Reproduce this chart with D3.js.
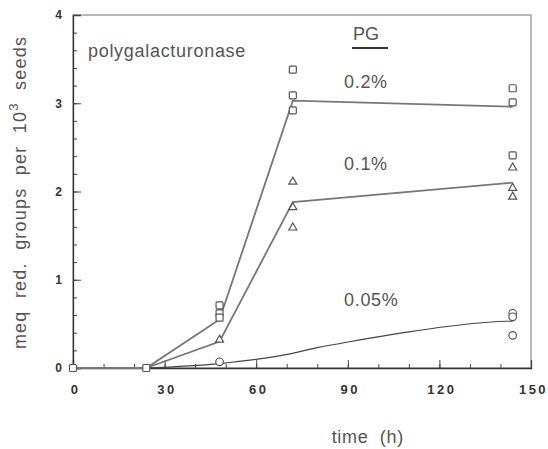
<!DOCTYPE html>
<html>
<head>
<meta charset="utf-8">
<script src="https://cdn.jsdelivr.net/npm/d3@7"></script>
<style>
  body { margin: 0; background: #fff; }
  svg { display: block; }
  .lbl { font-family: "Liberation Sans", Arial, sans-serif; fill: #555; }
  .tick text { font-family: "Liberation Sans", Arial, sans-serif; font-weight: bold; fill: #333; }
</style>
</head>
<body>
<div id="chart"></div>
<script>
var margin = { top: 15, right: 17, bottom: 81, left: 73 },
    width = 548 - margin.left - margin.right,
    height = 449 - margin.top - margin.bottom;

// observed points (time h, meq)
var pg02Obs = [[0,0],[24,0],[48,0.71],[48,0.62],[48,0.57],[72,3.38],[72,3.09],[72,2.92],[144,3.17],[144,3.01],[144,2.41]],
    pg01Obs = [[48,0.32],[72,2.11],[72,1.82],[72,1.59],[144,2.27],[144,2.04],[144,1.94]],
    pg005Obs = [[48,0.07],[144,0.62],[144,0.58],[144,0.37]];

// mean lines
var pg02Line = [[0,0],[24,0],[48,0.55],[72,3.03],[144,2.96]],
    pg01Line = [[24,0],[48,0.3],[72,1.88],[144,2.1]],
    pg005Curve = [[24,0],[48,0.05],[68,0.14],[80,0.23],[91,0.3],[110,0.41],[133,0.51],[142,0.53],[144,0.53]];

var xTicks = [0, 30, 60, 90, 120, 150],
    yTicks = [0, 1, 2, 3, 4];

var svg = d3.select("#chart").append("svg")
    .attr("width", 548)
    .attr("height", 449)
    .append("g")
    .attr("transform", "translate(" + margin.left + "," + margin.top + ")");

var x = d3.scaleLinear().domain([0, 150]).range([0, width]);
var y = d3.scaleLinear().domain([0, 4]).range([height, 0]);

// frame
svg.append("rect")
    .attr("width", width).attr("height", height)
    .attr("fill", "none").attr("stroke", "#777").attr("stroke-width", 1);

// minor ticks
svg.append("g").attr("transform", "translate(0," + height + ")")
    .call(d3.axisBottom(x).tickValues(d3.range(10, 150, 10)).tickSize(-4).tickFormat(""))
    .call(function(g) { g.select(".domain").remove(); g.selectAll("line").attr("stroke", "#444"); });
svg.append("g")
    .call(d3.axisLeft(y).tickValues(d3.range(0.2, 4, 0.2)).tickSize(-4).tickFormat(""))
    .call(function(g) { g.select(".domain").remove(); g.selectAll("line").attr("stroke", "#444"); });

// major ticks
var xAxis = svg.append("g").attr("transform", "translate(0," + height + ")")
    .call(d3.axisBottom(x).tickValues(xTicks).tickSize(-8).tickPadding(17).tickFormat(d3.format("d")));
xAxis.select(".domain").attr("stroke", "#333").attr("stroke-width", 1.3);
xAxis.selectAll("line").attr("stroke", "#444");
xAxis.selectAll("text").style("font-size", "13px").style("letter-spacing", "2.5px").attr("dx", "2");

var yAxis = svg.append("g")
    .call(d3.axisLeft(y).tickValues(yTicks).tickSize(-8).tickPadding(11).tickFormat(d3.format("d")));
yAxis.select(".domain").attr("stroke", "#333").attr("stroke-width", 1.3);
yAxis.selectAll("line").attr("stroke", "#444");
yAxis.selectAll("text").style("font-size", "12px");

// lines
var line = d3.line().x(function(d) { return x(d[0]); }).y(function(d) { return y(d[1]); });
var curve = d3.line().curve(d3.curveMonotoneX).x(function(d) { return x(d[0]); }).y(function(d) { return y(d[1]); });

[pg02Line, pg01Line].forEach(function(l) {
  svg.append("path").datum(l).attr("d", line)
      .attr("fill", "none").attr("stroke", "#777").attr("stroke-width", 1.8);
});
svg.append("path").datum(pg005Curve).attr("d", curve)
    .attr("fill", "none").attr("stroke", "#444").attr("stroke-width", 1.2);

// markers
svg.selectAll(".sq").data(pg02Obs).enter().append("rect")
    .attr("class", "sq")
    .attr("x", function(d) { return x(d[0]) - 3.5; })
    .attr("y", function(d) { return y(d[1]) - 3.5; })
    .attr("width", 7).attr("height", 7).attr("rx", 1)
    .attr("fill", "#fff").attr("stroke", "#555").attr("stroke-width", 1.2);

var tri = d3.symbol().type(d3.symbolTriangle).size(28);
svg.selectAll(".tri").data(pg01Obs).enter().append("path")
    .attr("class", "tri")
    .attr("d", tri)
    .attr("transform", function(d) { return "translate(" + x(d[0]) + "," + y(d[1]) + ")"; })
    .attr("fill", "#fff").attr("stroke", "#555").attr("stroke-width", 1.2);

svg.selectAll(".circ").data(pg005Obs).enter().append("circle")
    .attr("class", "circ")
    .attr("cx", function(d) { return x(d[0]); })
    .attr("cy", function(d) { return y(d[1]); })
    .attr("r", 3.8)
    .attr("fill", "#fff").attr("stroke", "#555").attr("stroke-width", 1.2);

// labels
svg.append("text").attr("class", "lbl")
    .attr("x", 15).attr("y", 42)
    .style("font-size", "18px").style("letter-spacing", "0.7px")
    .text("polygalacturonase");

svg.append("text").attr("class", "lbl")
    .attr("x", 280).attr("y", 25)
    .style("font-size", "18px")
    .text("PG");
svg.append("line")
    .attr("x1", 279).attr("x2", 315).attr("y1", 33).attr("y2", 33)
    .attr("stroke", "#333").attr("stroke-width", 2);

[["0.2%", 3.17], ["0.1%", 2.24], ["0.05%", 0.70]].forEach(function(d) {
  svg.append("text").attr("class", "lbl")
      .attr("x", 271).attr("y", y(d[1]))
      .style("font-size", "18px").style("letter-spacing", "0.7px")
      .text(d[0]);
});

// axis titles
svg.append("text").attr("class", "lbl")
    .attr("x", x(90) + 20).attr("y", height + 75)
    .attr("text-anchor", "middle")
    .style("font-size", "18px").style("letter-spacing", "0.7px")
    .attr("xml:space", "preserve")
    .text("time  (h)");

var yt = svg.append("text").attr("class", "lbl")
    .attr("transform", "translate(-47," + (height / 2 + 1) + ") rotate(-90)")
    .attr("text-anchor", "middle")
    .style("font-size", "18px").style("letter-spacing", "1.2px")
    .attr("xml:space", "preserve");
yt.append("tspan").text("meq  red.  groups  per  10");
yt.append("tspan").attr("dy", -8).style("font-size", "13px").text("3");
yt.append("tspan").attr("dy", 8).text("  seeds");
</script>
</body>
</html>
